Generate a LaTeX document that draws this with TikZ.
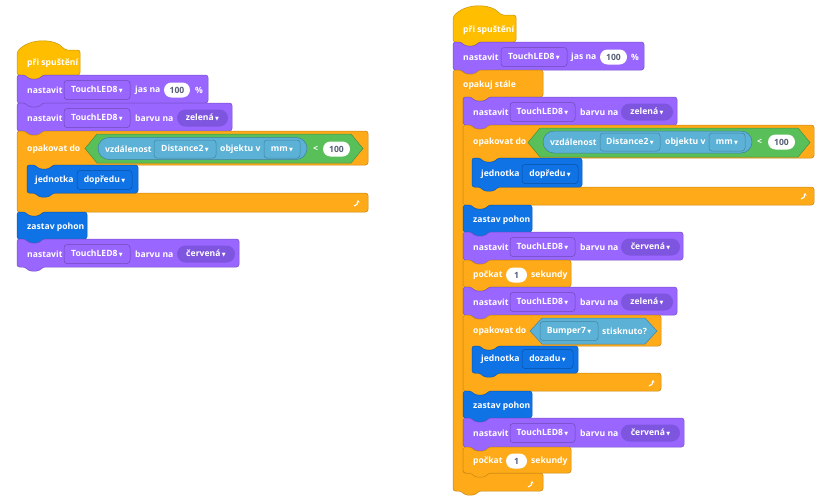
\documentclass[tikz,border=0pt]{standalone}
\usepackage{fontspec}
\setmainfont{Open Sans}
\newfontfamily\symfont{DejaVu Sans}
\usetikzlibrary{calc, arrows.meta}

\definecolor{event}{HTML}{FFBF00}
\definecolor{control}{HTML}{FFAB19}
\definecolor{looks}{HTML}{9966FF}
\definecolor{motion}{HTML}{0F73E6}
\definecolor{operator}{HTML}{59C059}
\definecolor{sensing}{HTML}{5CB1D6}
\definecolor{pillclr}{HTML}{7E55DF}
\definecolor{numtxt}{HTML}{575E75}

\newcommand{\blkfont}{\bfseries\fontsize{8.6}{10}\selectfont}
\newcommand{\dd}{\,{\symfont\fontsize{5}{5}\selectfont ▼}}

% stack block: color, x1, y1, x2, y2
\newcommand{\stackblk}[5]{%
  \filldraw[blk=#1] (#2,#5) -- (#2,#3) -- (#2+8,#3) -- (#2+12,#3+4) -- (#2+22,#3+4) -- (#2+26,#3)
    -- (#4,#3) -- (#4,#5) -- (#2+26,#5) -- (#2+22,#5+4) -- (#2+12,#5+4) -- (#2+8,#5) -- cycle;}
% hat block: color, x1, ytop, x2, y2
\newcommand{\hatblk}[5]{%
  \filldraw[blk=#1] (#2,#5) -- (#2,#3+11) .. controls (#2+12,#3-3) and (#2+38,#3-3) .. (#2+48,#3+9)
    -- (#4,#3+9) -- (#4,#5) -- (#2+26,#5) -- (#2+22,#5+4) -- (#2+12,#5+4) -- (#2+8,#5) -- cycle;}
% c block: color, x1, y1, x2, yhead, xarm, yinner, y4
\newcommand{\cblk}[8]{%
  \filldraw[blk=#1] (#2,#8) -- (#2,#3) -- (#2+8,#3) -- (#2+12,#3+4) -- (#2+22,#3+4) -- (#2+26,#3)
    -- (#4,#3) -- (#4,#5) -- (#6+26,#5) -- (#6+22,#5+4) -- (#6+12,#5+4) -- (#6+8,#5) -- (#6,#5)
    -- (#6,#7) -- (#4,#7) -- (#4,#8) -- (#2+26,#8) -- (#2+22,#8+4) -- (#2+12,#8+4) -- (#2+8,#8) -- cycle;}
% boolean hexagon: style, xl, xr, ytop, ybot
\newcommand{\hexblk}[5]{%
  \filldraw[#1] (#2,{(#4+#5)/2}) -- (#2+12,#4) -- (#3-12,#4) -- (#3,{(#4+#5)/2})
    -- (#3-12,#5) -- (#2+12,#5) -- cycle;}

\begin{document}
\begin{tikzpicture}[x=1pt, y=-1pt,
  blk/.style={fill=#1, draw=#1!78!black, line width=0.5pt, rounded corners=2.5pt}]
		\tikzstyle{lbl} = [text=white, font=\blkfont, inner sep=0pt, anchor=west]
		\tikzstyle{fld} = [text=white, font=\blkfont, inner sep=1pt, rounded corners=3pt, line width=0.5pt, minimum height=19pt]
		\tikzstyle{fldlooks} = [fld, fill=looks, draw=looks!72!black]
		\tikzstyle{fldsense} = [fld, fill=sensing, draw=sensing!75!black, minimum height=18pt]
		\tikzstyle{fldmotion} = [fld, fill=motion, draw=motion!70!black]
		\tikzstyle{pill} = [text=white, font=\blkfont, fill=pillclr, rounded corners=8.5pt, minimum height=17pt, inner sep=1pt]
		\tikzstyle{num} = [text=numtxt, font=\blkfont, fill=white, rounded corners=7.5pt, minimum height=15pt, inner sep=1pt]
		\tikzstyle{hexop} = [fill=operator, draw=operator!75!black, line width=0.5pt]
		\tikzstyle{hexsense} = [fill=sensing, draw=sensing!75!black, line width=0.5pt]
		\tikzstyle{rep} = [fill=sensing, draw=sensing!72!black, line width=0.5pt, rounded corners=11pt]
		\tikzstyle{loopicon} = [white, line width=1.1pt, -{Stealth[length=2.6pt, width=3.4pt]}]
		
		\useasboundingbox (0,0) rectangle (830,498);
		
		% left script
		\hatblk{event}{17}{41}{80}{75}
		\node[lbl] at (27,63) (lhat) {při spuštění};
		
		\stackblk{looks}{17}{75}{208}{103}
		\node[lbl] at (27,90) (lset1) {nastavit};
		\node[fldlooks, minimum width=66pt] at (97,90) (lled1) {TouchLED8\dd};
		\node[lbl] at (135,90) (ljas) {jas na};
		\node[num, minimum width=26pt] at (177,90) (lval1) {100};
		\node[lbl] at (195,90) (lpct) {\%};
		
		\stackblk{looks}{17}{103}{232}{131}
		\node[lbl] at (27,118) (lset2) {nastavit};
		\node[fldlooks, minimum width=66pt] at (97,118) (lled2) {TouchLED8\dd};
		\node[lbl] at (135,118) (lclr2) {barvu na};
		\node[pill, minimum width=51pt] at (202.5,118) (lgreen) {zelená\dd};
		
		\cblk{control}{17}{131}{368}{165}{27}{193}{212}
		\node[lbl] at (27,149) (lrep) {opakovat do};
		\hexblk{hexop}{85}{363}{134}{163}
		\filldraw[rep] (98,137.5) rectangle (307,159.5);
		\node[lbl] at (105,149) (ldist) {vzdálenost};
		\node[fldsense, minimum width=62pt] at (185,149) (lsens) {Distance2\dd};
		\node[lbl] at (220,149) (lobj) {objektu v};
		\node[fldsense, minimum width=36pt] at (282,149) (lunit) {mm\dd};
		\node[lbl] at (313,149) (llt) {<};
		\node[num, minimum width=27pt] at (336.5,149) (lval2) {100};
		\coordinate (lloop) at (358,203);
		\draw[loopicon] ([shift={(-4,3)}]lloop) to[out=0, in=-90] ([shift={(0,-3)}]lloop);
		
		\stackblk{motion}{27}{165}{138}{193}
		\node[lbl] at (35,180) (ldrive) {jednotka};
		\node[fldmotion, minimum width=55pt] at (104.5,180) (lfwd) {dopředu\dd};
		
		\stackblk{motion}{17}{212}{87}{239}
		\node[lbl] at (27,227) (lstop) {zastav pohon};
		
		\stackblk{looks}{17}{239}{239}{267}
		\node[lbl] at (27,254) (lset3) {nastavit};
		\node[fldlooks, minimum width=66pt] at (97,254) (lled3) {TouchLED8\dd};
		\node[lbl] at (135,254) (lclr3) {barvu na};
		\node[pill, minimum width=58pt] at (206,254) (lred) {červená\dd};
		
		% right script
		\hatblk{event}{453}{6}{516}{42}
		\node[lbl] at (463,30) (rhat) {při spuštění};
		
		\stackblk{looks}{453}{42}{644}{70}
		\node[lbl] at (463,57) (rset1) {nastavit};
		\node[fldlooks, minimum width=66pt] at (534,57) (rled1) {TouchLED8\dd};
		\node[lbl] at (571,57) (rjas) {jas na};
		\node[num, minimum width=27pt] at (613.5,57) (rval1) {100};
		\node[lbl] at (631,57) (rpct) {\%};
		
		\cblk{control}{453}{70}{543}{97}{463}{473}{491}
		\node[lbl] at (463,85) (rfor) {opakuj stále};
		\coordinate (rloop0) at (532,484);
		\draw[loopicon] ([shift={(-4,3)}]rloop0) to[out=0, in=-90] ([shift={(0,-3)}]rloop0);
		
		\stackblk{looks}{463}{97}{677}{125}
		\node[lbl] at (473,112) (rset2) {nastavit};
		\node[fldlooks, minimum width=65pt] at (542.5,112) (rled2) {TouchLED8\dd};
		\node[lbl] at (580,112) (rclr2) {barvu na};
		\node[pill, minimum width=52pt] at (647,112) (rgreen1) {zelená\dd};
		
		\cblk{control}{463}{125}{814}{158}{472}{187}{205}
		\node[lbl] at (473,142) (rrep1) {opakovat do};
		\hexblk{hexop}{528}{810}{128}{157}
		\filldraw[rep] (543,131) rectangle (752,153);
		\node[lbl] at (550,142) (rdist) {vzdálenost};
		\node[fldsense, minimum width=60pt] at (630,142) (rsens) {Distance2\dd};
		\node[lbl] at (665,142) (robj) {objektu v};
		\node[fldsense, minimum width=36pt] at (727,142) (runit) {mm\dd};
		\node[lbl] at (757,142) (rlt) {<};
		\node[num, minimum width=27pt] at (781.5,142) (rval2) {100};
		\coordinate (rloop1) at (805,196);
		\draw[loopicon] ([shift={(-4,3)}]rloop1) to[out=0, in=-90] ([shift={(0,-3)}]rloop1);
		
		\stackblk{motion}{472}{158}{582}{187}
		\node[lbl] at (481,174) (rdrive1) {jednotka};
		\node[fldmotion, minimum width=56pt] at (550,174) (rfwd) {dopředu\dd};
		
		\stackblk{motion}{463}{205}{532}{232}
		\node[lbl] at (473,220) (rstop1) {zastav pohon};
		
		\stackblk{looks}{463}{232}{683}{260}
		\node[lbl] at (473,247) (rset3) {nastavit};
		\node[fldlooks, minimum width=65pt] at (542.5,247) (rled3) {TouchLED8\dd};
		\node[lbl] at (580,247) (rclr3) {barvu na};
		\node[pill, minimum width=59pt] at (650.5,247) (rred1) {červená\dd};
		
		\stackblk{control}{463}{260}{571}{287}
		\node[lbl] at (473,275) (rwait1) {počkat};
		\node[num, minimum width=21pt] at (516.5,275) (rsec1) {1};
		\node[lbl] at (531,275) (runit1) {sekundy};
		
		\stackblk{looks}{463}{287}{677}{315}
		\node[lbl] at (473,302) (rset4) {nastavit};
		\node[fldlooks, minimum width=65pt] at (542.5,302) (rled4) {TouchLED8\dd};
		\node[lbl] at (580,302) (rclr4) {barvu na};
		\node[pill, minimum width=52pt] at (647,302) (rgreen2) {zelená\dd};
		
		\cblk{control}{463}{315}{661}{346}{472}{373}{391}
		\node[lbl] at (473,331) (rrep2) {opakovat do};
		\hexblk{hexsense}{530}{657}{318}{344}
		\node[fldsense, minimum width=58pt, minimum height=19pt] at (569,331) (rbump) {Bumper7\dd};
		\node[lbl] at (602,331) (rpress) {stisknuto?};
		\coordinate (rloop2) at (653,383);
		\draw[loopicon] ([shift={(-4,3)}]rloop2) to[out=0, in=-90] ([shift={(0,-3)}]rloop2);
		
		\stackblk{motion}{472}{346}{578}{373}
		\node[lbl] at (481,359) (rdrive2) {jednotka};
		\node[fldmotion, minimum width=51pt] at (547.5,359) (rback) {dozadu\dd};
		
		\stackblk{motion}{463}{391}{532}{418}
		\node[lbl] at (473,406) (rstop2) {zastav pohon};
		
		\stackblk{looks}{463}{418}{684}{447}
		\node[lbl] at (473,433) (rset5) {nastavit};
		\node[fldlooks, minimum width=65pt] at (542.5,433) (rled5) {TouchLED8\dd};
		\node[lbl] at (580,433) (rclr5) {barvu na};
		\node[pill, minimum width=59pt] at (650.5,433) (rred2) {červená\dd};
		
		\stackblk{control}{463}{447}{571}{473}
		\node[lbl] at (473,461) (rwait2) {počkat};
		\node[num, minimum width=21pt] at (516.5,461) (rsec2) {1};
		\node[lbl] at (531,461) (runit2) {sekundy};
		\end{tikzpicture}
\end{document}
